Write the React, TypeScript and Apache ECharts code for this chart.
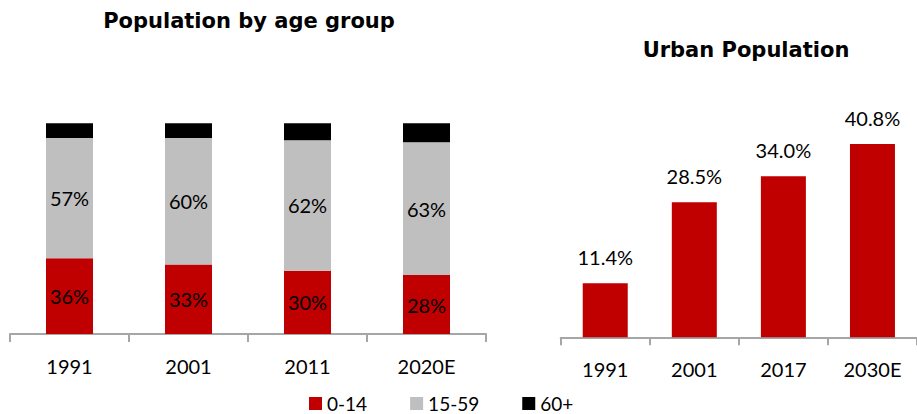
import React, { useEffect, useRef } from "react";
import * as echarts from "echarts";

const ageYears = ["1991", "2001", "2011", "2020E"];
const age0to14 = [36, 33, 30, 28];
const age15to59 = [57, 60, 62, 63];
const age60plus = [7, 7, 8, 9];

const urbanYears = ["1991", "2001", "2017", "2030E"];
const urbanShare = [11.4, 28.5, 34.0, 40.8];

const FONT = "Lato";
const TITLE_FONT = "DejaVu Sans";
const RED = "#c00000";
const GREY = "#bfbfbf";
const BLACK = "#000000";
const AXIS = "#a6a6a6";

export default function App() {
  const ref = useRef<HTMLDivElement>(null);
  useEffect(() => {
    if (!ref.current) return;
    const chart = echarts.init(ref.current, null, { renderer: "svg" });
    const axisCommon = {
      axisLine: { show: true, lineStyle: { color: AXIS, width: 2 } },
      axisTick: { show: true, length: 8, lineStyle: { color: AXIS, width: 2 } },
      axisLabel: { color: "#000", fontSize: 20, fontFamily: FONT, margin: 22 },
    };
    const inLabel = { show: true, position: "inside", color: "#000", fontSize: 20, fontFamily: FONT, formatter: "{c}%" };
    chart.setOption({
      animation: false,
      textStyle: { fontFamily: FONT },
      title: [
        {
          text: "Population by age group",
          left: 249,
          top: 10,
          textAlign: "center",
          padding: 0,
          textStyle: { fontSize: 21, fontWeight: "bold", fontFamily: TITLE_FONT, color: "#000" },
        },
        {
          text: "Urban Population",
          left: 746,
          top: 39,
          textAlign: "center",
          padding: 0,
          textStyle: { fontSize: 21, fontWeight: "bold", fontFamily: TITLE_FONT, color: "#000" },
        },
      ],
      legend: {
        data: ["0-14", "15-59", "60+"],
        left: 309,
        top: 394,
        padding: 0,
        itemWidth: 13,
        itemHeight: 13,
        itemGap: 43,
        icon: "rect",
        textStyle: { fontSize: 19, fontFamily: FONT, color: "#000" },
      },
      grid: [
        { left: 10, right: 431, top: 123.3, bottom: 80, containLabel: false },
        { left: 560.7, right: -8.5, top: 124.1, bottom: 76.7, containLabel: false },
      ],
      xAxis: [
        { type: "category", gridIndex: 0, data: ageYears, ...axisCommon },
        { type: "category", gridIndex: 1, data: urbanYears, ...axisCommon },
      ],
      yAxis: [
        { type: "value", gridIndex: 0, min: 0, max: 100, show: false },
        { type: "value", gridIndex: 1, min: 0, max: 45, show: false },
      ],
      series: [
        {
          name: "0-14",
          type: "bar",
          stack: "age",
          xAxisIndex: 0,
          yAxisIndex: 0,
          data: age0to14,
          barWidth: 47,
          itemStyle: { color: RED },
          label: inLabel,
        },
        {
          name: "15-59",
          type: "bar",
          stack: "age",
          xAxisIndex: 0,
          yAxisIndex: 0,
          data: age15to59,
          barWidth: 47,
          itemStyle: { color: GREY },
          label: inLabel,
        },
        {
          name: "60+",
          type: "bar",
          stack: "age",
          xAxisIndex: 0,
          yAxisIndex: 0,
          data: age60plus,
          barWidth: 47,
          itemStyle: { color: BLACK },
        },
        {
          name: "Urban",
          type: "bar",
          xAxisIndex: 1,
          yAxisIndex: 1,
          data: urbanShare,
          barWidth: 45,
          itemStyle: { color: RED },
          label: {
            show: true,
            position: "top",
            distance: 16,
            color: "#000",
            fontSize: 20,
            fontFamily: FONT,
            formatter: (p: any) => `${Number(p.value).toFixed(1)}%`,
          },
        },
      ],
    });
    return () => chart.dispose();
  }, []);
  return (
    <div
      ref={ref}
      style={{ position: "fixed", left: 0, top: 0, width: 917, height: 414, background: "#fff" }}
    />
  );
}
